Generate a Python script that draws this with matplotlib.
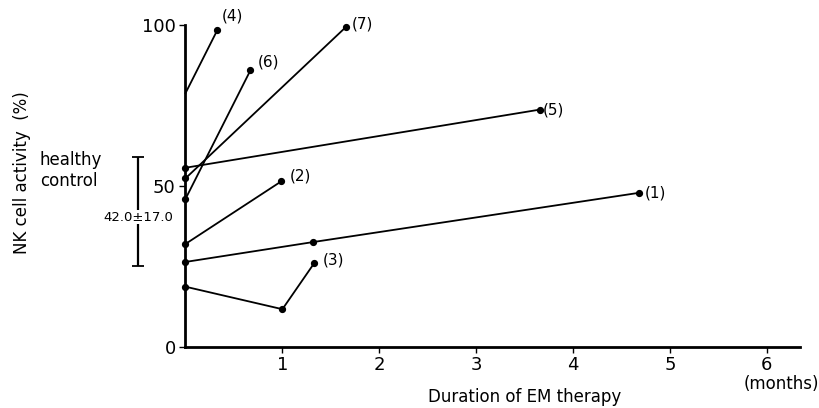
import matplotlib
matplotlib.use("Agg")
import matplotlib.pyplot as plt

# Data (months, NK cell activity %)
series_labels = ["(1)", "(2)", "(3)", "(4)", "(5)", "(6)", "(7)"]
x1 = [0, 1.32, 4.68]; y1 = [26.3, 32.5, 47.8]
x2 = [0, 0.99];        y2 = [31.9, 51.4]
x3 = [0, 1.0, 1.33];   y3 = [18.6, 11.6, 26.0]
x4 = [0, 0.33];        y4 = [78.8, 98.5]
x5 = [0, 3.66];        y5 = [55.6, 73.7]
x6 = [0, 0.67];        y6 = [45.9, 85.9]
x7 = [0, 1.66];        y7 = [52.3, 99.5]
xs = [x1, x2, x3, x4, x5, x6, x7]
ys = [y1, y2, y3, y4, y5, y6, y7]
start_dot = [True, True, True, False, True, True, True]

healthy_mean = 42.0
healthy_sd = 17.0
xticks = [1, 2, 3, 4, 5, 6]
xtick_labels = ["1", "2", "3", "4", "5", "6"]
yticks = [0, 50, 100]

W, H = 820, 408
fig = plt.figure(figsize=(W / 100, H / 100), dpi=100)
left, right, top, bottom = 185.5, 800, 25, 346.5
ax = fig.add_axes([left / W, (H - bottom) / H, (right - left) / W, (bottom - top) / H])

ax.set_xlim(0, (right - left) / 96.9)
ax.set_ylim(0, 100)

# label offsets (in points)
offsets = {"(1)": (4, 0), "(2)": (6, 4), "(3)": (6, 2), "(4)": (3, 10),
           "(5)": (2, 0), "(6)": (5, 6), "(7)": (4, 2)}
for lab, xv, yv, sd in zip(series_labels, xs, ys, start_dot):
    ax.plot(xv, yv, color="black", lw=1.3, clip_on=False, zorder=3)
    mx = xv if sd else xv[1:]
    my = yv if sd else yv[1:]
    ax.plot(mx, my, "o", color="black", ms=4.2, clip_on=False, zorder=4)
    ox, oy = offsets[lab]
    ax.annotate(lab, (xv[-1], yv[-1]), xytext=(ox, oy), textcoords="offset points",
                ha="left", va="center", fontsize=11, annotation_clip=False)

# spines
for s in ["top", "right"]:
    ax.spines[s].set_visible(False)
ax.spines["left"].set_linewidth(2)
ax.spines["bottom"].set_linewidth(2)
ax.set_xticks(xticks)
ax.set_xticklabels(xtick_labels, fontsize=13)
ax.set_yticks(yticks)
ax.set_yticklabels([str(v) for v in yticks], fontsize=13)
ax.tick_params(axis="both", direction="out", length=4, width=1, pad=3)

# healthy control bar
bx = -0.49
ax.errorbar([bx], [healthy_mean], yerr=[[healthy_sd], [healthy_sd]], fmt="none",
            ecolor="black", elinewidth=1.6, capsize=4, capthick=1.3, clip_on=False)
ax.text(bx, 40.2, "42.0±17.0", ha="center", va="center", fontsize=9.5,
        bbox=dict(facecolor="white", edgecolor="none", pad=0.5), clip_on=False, zorder=5)
fig.text(40 / W, 1 - 160 / H, "healthy", fontsize=12, ha="left", va="center")
fig.text(40 / W, 1 - 181 / H, "control", fontsize=12, ha="left", va="center")

fig.text(22 / W, 1 - 173 / H, "NK cell activity  (%)", rotation=90, fontsize=12,
         ha="center", va="center")
fig.text(525 / W, 1 - 397 / H, "Duration of EM therapy", fontsize=12, ha="center", va="center")
fig.text(781 / W, 1 - 384 / H, "(months)", fontsize=12, ha="center", va="center")

fig.savefig("out.png", dpi=100)
